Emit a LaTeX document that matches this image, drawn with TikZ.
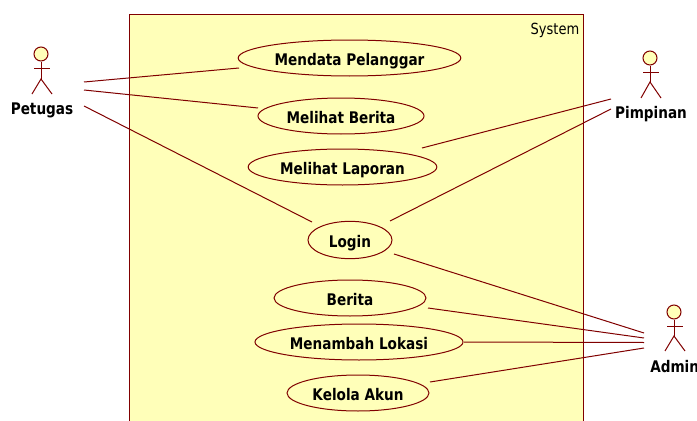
\documentclass[tikz,border=0pt]{standalone}
\usepackage{fontspec}
\setmainfont{DejaVu Sans}[FakeStretch=0.85]
\usetikzlibrary{shapes.geometric}
\definecolor{umlline}{RGB}{128,0,0}
\definecolor{umlfill}{RGB}{255,255,185}
\tikzset{
  x=0.75pt,y=-0.75pt,
  wire/.style={draw=umlline,line width=0.75pt},
  usecase/.style={ellipse,draw=umlline,fill=umlfill,line width=0.75pt,inner sep=0pt,text height=10.5pt,text depth=0pt,font=\fontsize{12}{14}\selectfont\bfseries,text=black},
  actorname/.style={inner sep=0pt,text height=12pt,text depth=0pt,font=\fontsize{12}{14}\selectfont\bfseries,text=black},
  head/.style={circle,draw=umlline,fill=umlfill,minimum size=10.5pt,inner sep=0pt,line width=0.75pt},
}
\begin{document}
\begin{tikzpicture}
\useasboundingbox (0,0) rectangle (697,421);
\begin{scope}
\clip (0,0) rectangle (697,421);
\node[draw=umlline,fill=umlfill,line width=0.75pt,anchor=north west,minimum width=340.5pt,minimum height=330pt,inner sep=0pt] (sys) at (129,13.5) {};
\node[anchor=base east,inner sep=0pt,font=\fontsize{11.5}{14}\selectfont,text=black] (syslabel) at (579.5,35) {System};

\node[usecase,minimum width=167pt,minimum height=27pt] (u1) at (349.5,58) {Mendata Pelanggar};
\node[usecase,minimum width=124.5pt,minimum height=27pt] (u2) at (341,116) {Melihat Berita};
\node[usecase,minimum width=141.5pt,minimum height=27pt] (u3) at (342.5,167) {Melihat Laporan};
\node[usecase,minimum width=63pt,minimum height=28pt] (u4) at (350,240) {Login};
\node[usecase,minimum width=114pt,minimum height=27pt] (u5) at (350,298) {Berita};
\node[usecase,minimum width=156pt,minimum height=27pt] (u6) at (359,342) {Menambah Lokasi};
\node[usecase,minimum width=106.5pt,minimum height=27pt] (u7) at (358,393) {Kelola Akun};

% Petugas
\node[head] (h1) at (41,54) {};
\coordinate (b1) at (41,79);
\draw[wire] (h1) -- (b1);
\coordinate (al1) at (34,68); \coordinate (ar1) at (50,68);
\draw[wire] (al1) -- (ar1);
\coordinate (ll1) at (32,94); \coordinate (lr1) at (52,94);
\draw[wire] (ll1) -- (b1) -- (lr1);
\node[actorname] (n1) at (42,106) {Petugas};
% Pimpinan
\node[head] (h2) at (650,58) {};
\coordinate (b2) at (650,82);
\draw[wire] (h2) -- (b2);
\coordinate (al2) at (643,72); \coordinate (ar2) at (659,72);
\draw[wire] (al2) -- (ar2);
\coordinate (ll2) at (641,98); \coordinate (lr2) at (661,98);
\draw[wire] (ll2) -- (b2) -- (lr2);
\node[actorname] (n2) at (651,110.5) {Pimpinan};
% Admin
\node[head] (h3) at (674,312) {};
\coordinate (b3) at (674,336);
\draw[wire] (h3) -- (b3);
\coordinate (al3) at (667,326); \coordinate (ar3) at (683,326);
\draw[wire] (al3) -- (ar3);
\coordinate (ll3) at (665,351); \coordinate (lr3) at (685,351);
\draw[wire] (ll3) -- (b3) -- (lr3);
\node[actorname,anchor=west] (n3) at (650,364) {Admin};

% connector ends
\coordinate (p1) at (84,82); \coordinate (e1) at (239,68);
\coordinate (p2) at (84,90); \coordinate (e2) at (258,108);
\coordinate (p3) at (84,106); \coordinate (e3) at (312,222);
\coordinate (q1) at (611,99); \coordinate (e4) at (422,148);
\coordinate (q2) at (611,109); \coordinate (e5) at (390,221);
\coordinate (a1) at (644,333); \coordinate (e6) at (394,254);
\coordinate (a2) at (644,338); \coordinate (e7) at (428,308);
\coordinate (a3) at (644,342.5); \coordinate (e8) at (464,342);
\coordinate (a4) at (644,348); \coordinate (e9) at (430,382);
\draw[wire] (p1) -- (e1);
\draw[wire] (p2) -- (e2);
\draw[wire] (p3) -- (e3);
\draw[wire] (q1) -- (e4);
\draw[wire] (q2) -- (e5);
\draw[wire] (a1) -- (e6);
\draw[wire] (a2) -- (e7);
\draw[wire] (a3) -- (e8);
\draw[wire] (a4) -- (e9);
\end{scope}
\end{tikzpicture}
\end{document}
